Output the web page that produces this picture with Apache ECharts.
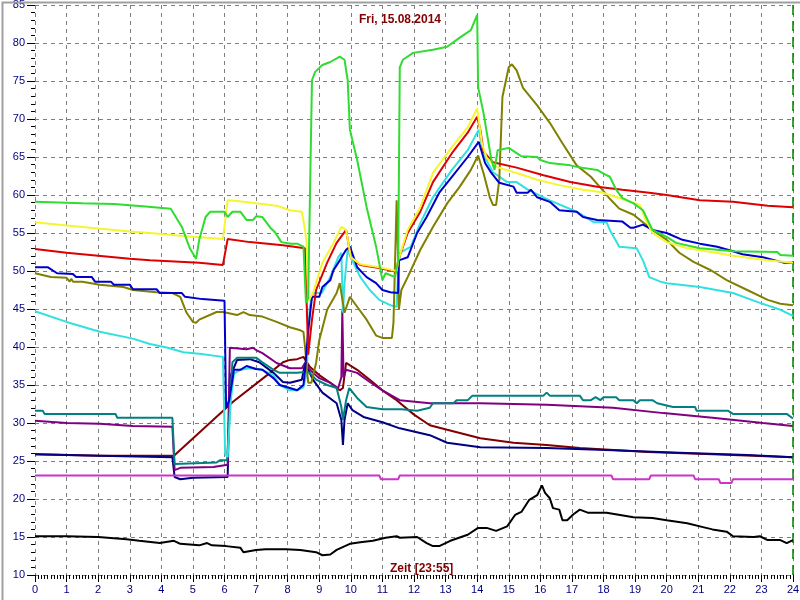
<!DOCTYPE html>
<html>
<head>
<meta charset="utf-8">
<script src="https://cdn.jsdelivr.net/npm/echarts@6/dist/echarts.min.js"></script>
<style>
html,body{margin:0;padding:0;background:#fff;}
#chart{width:800px;height:600px;}
</style>
</head>
<body>
<div id="chart"></div>
<script>
// ---- data: [hour, °C] ----
const titleText = 'Fri, 15.08.2014';
const xName = 'Zeit [23:55]';
const yName = '°C';
const xTicks = [0, 24, 1];
const yTicks = [10, 85, 5];

const green = [[0,59.1],[1.5,58.9],[2.5,58.8],[3.5,58.5],[4.3,58.2],[4.65,55.8],[4.9,53.0],[5.1,51.6],[5.2,54.1],[5.4,57.1],[5.55,57.8],[6.0,57.8],[6.1,57.1],[6.25,57.8],[6.5,57.8],[6.7,56.7],[6.9,56.7],[7.0,57.2],[7.2,57.1],[7.45,55.7],[7.6,55.1],[7.8,53.8],[8.1,53.6],[8.3,53.6],[8.5,53.2],[8.58,45.8],[8.65,46.5],[8.77,75.1],[8.87,76.2],[9.1,77.1],[9.35,77.5],[9.65,78.2],[9.8,77.8],[9.9,75.1],[9.97,68.6],[10.2,64.6],[10.5,58.4],[10.8,53.2],[11.0,48.8],[11.1,49.7],[11.4,49.2],[11.5,51.4],[11.55,76.8],[11.65,77.8],[11.97,78.7],[12.6,79.1],[13.05,79.5],[13.45,80.7],[13.8,81.7],[14.0,83.7],[14.03,74.2],[14.2,70.8],[14.45,64.6],[14.55,63.3],[14.65,65.9],[15.0,66.2],[15.25,65.5],[15.4,65.1],[15.9,65.0],[16.0,64.6],[16.3,64.2],[16.95,63.9],[17.15,63.7],[17.8,63.3],[18.0,62.8],[18.2,62.4],[18.4,60.7],[18.6,59.6],[18.95,58.9],[19.25,58.0],[19.55,55.4],[20.0,54.5],[20.3,53.7],[21.05,53.0],[21.6,52.8],[22.1,52.6],[23.5,52.5],[23.6,52.1],[24,52.0]];

const yellow = [[0,56.4],[1,56.0],[2,55.6],[3,55.2],[3.64,55.0],[4.7,54.6],[5.95,54.2],[6.1,59.3],[6.4,59.2],[7.0,58.9],[7.65,58.6],[8.07,58.0],[8.45,57.8],[8.55,55.4],[8.6,53.7],[8.65,46.0],[8.8,47.1],[9.1,51.1],[9.45,53.7],[9.7,55.8],[9.85,55.4],[10.0,51.8],[10.3,50.9],[10.9,50.5],[11.45,50.0],[11.5,51.4],[11.8,55.4],[12.2,58.4],[12.6,62.9],[13.2,66.3],[13.7,68.9],[14.0,71.4],[14.15,66.8],[14.3,64.9],[14.6,63.7],[15.25,62.9],[15.9,62.0],[16.6,61.3],[17.35,60.7],[17.9,60.4],[18.5,59.6],[19.15,58.7],[19.3,57.1],[19.55,55.0],[20.0,53.8],[20.65,53.0],[21.4,52.5],[22.1,52.0],[23.2,51.4],[24,51.1]];

const red = [[0,52.9],[1,52.4],[2,52.0],[3,51.6],[3.64,51.4],[5.2,51.1],[5.95,50.8],[6.1,54.2],[6.8,53.8],[7.85,53.4],[8.55,53.0],[8.6,52.8],[8.65,39.0],[8.77,43.6],[8.9,47.5],[9.25,51.1],[9.55,53.7],[9.85,55.4],[10.0,51.8],[10.3,50.8],[10.9,50.4],[11.45,49.9],[11.5,51.4],[11.8,55.0],[12.2,57.8],[12.6,61.7],[13.2,65.5],[13.7,68.2],[14.0,70.3],[14.1,68.6],[14.2,65.7],[14.5,64.3],[15.25,63.6],[16.1,62.6],[16.95,61.7],[17.8,61.1],[18.6,60.7],[19.45,60.3],[20.0,60.0],[21.05,59.3],[22.1,59.1],[23.2,58.6],[24,58.4]];

const blue = [[0,50.5],[0.4,50.5],[0.7,49.7],[1.2,49.6],[1.3,49.2],[1.8,49.2],[1.9,48.6],[2.4,48.6],[2.5,48.2],[3.0,48.2],[3.1,47.6],[3.85,47.6],[3.95,47.1],[4.65,47.1],[4.75,46.6],[5.3,46.3],[6.0,46.1],[6.05,32.0],[6.15,33.0],[6.3,37.0],[6.5,37.0],[6.7,37.5],[7.0,37.1],[7.2,37.0],[7.55,35.9],[7.75,35.0],[8.07,34.6],[8.3,34.3],[8.5,35.0],[8.55,37.0],[8.65,42.2],[8.77,46.6],[9.0,46.6],[9.1,47.9],[9.35,48.8],[9.45,50.1],[9.65,51.4],[9.85,52.8],[9.97,53.2],[10.2,50.5],[10.5,49.2],[10.8,48.4],[11.0,47.5],[11.25,47.2],[11.5,47.1],[11.52,51.4],[11.8,51.8],[12.1,55.0],[12.4,57.1],[12.8,60.3],[13.2,62.4],[13.7,65.0],[14.05,67.0],[14.25,64.2],[14.45,62.9],[14.7,61.6],[15.15,61.1],[15.25,60.3],[15.6,60.3],[15.7,60.7],[15.9,59.7],[16.3,59.1],[16.6,58.0],[17.15,57.8],[17.35,57.1],[17.8,56.7],[18.6,56.5],[18.85,55.7],[18.95,55.7],[19.25,56.1],[19.55,55.4],[20.0,55.0],[20.5,54.1],[21.05,53.6],[21.6,53.2],[22.1,52.6],[22.4,52.2],[23.05,51.8],[23.7,51.1],[24,51.1]];

const olive = [[0,49.7],[0.5,49.2],[1.0,49.1],[1.1,48.6],[1.15,49.0],[1.2,48.6],[1.5,48.6],[2.05,48.2],[2.8,47.9],[3.1,47.5],[3.85,47.2],[4.35,47.1],[4.6,46.6],[4.8,44.5],[5.0,43.3],[5.1,43.2],[5.2,43.6],[5.75,44.6],[5.95,44.6],[6.4,44.2],[6.6,44.6],[6.8,44.2],[7.2,44.0],[7.65,43.3],[8.07,42.6],[8.4,42.2],[8.5,42.0],[8.55,40.0],[8.65,35.3],[8.75,35.3],[8.9,37.9],[9.0,40.9],[9.25,44.9],[9.55,47.1],[9.65,48.4],[9.75,45.8],[9.8,44.5],[9.97,46.6],[10.2,45.3],[10.5,43.6],[10.8,41.5],[11.0,41.2],[11.3,41.2],[11.35,43.2],[11.4,51.1],[11.45,59.3],[11.5,51.1],[11.52,44.9],[11.6,47.5],[11.8,49.2],[12.2,52.8],[12.6,55.8],[13.05,58.9],[13.45,61.1],[13.8,63.3],[14.03,65.2],[14.2,62.9],[14.4,59.7],[14.5,58.7],[14.6,58.7],[14.7,62.0],[14.8,72.9],[15.0,76.8],[15.1,77.2],[15.25,76.4],[15.45,74.1],[15.9,71.8],[16.3,69.5],[16.7,66.8],[17.15,63.9],[17.6,62.4],[18.0,60.5],[18.2,59.5],[18.5,58.2],[18.95,57.4],[19.25,56.4],[19.55,55.4],[20.0,54.1],[20.4,52.4],[20.85,51.2],[21.4,50.1],[21.9,48.8],[22.55,47.5],[23.2,46.2],[23.6,45.7],[24,45.5]];

const cyan = [[0,44.7],[1.0,43.3],[2.05,42.0],[3.1,41.1],[3.64,40.4],[4.2,39.9],[4.7,39.3],[5.2,39.1],[5.95,38.7],[6.02,26.0],[6.1,25.5],[6.2,33.0],[6.3,36.5],[6.5,37.0],[6.8,37.2],[7.2,37.0],[7.55,36.3],[7.75,35.0],[8.07,34.3],[8.3,34.3],[8.5,34.7],[8.6,36.5],[8.7,45.3],[8.8,47.1],[9.08,47.1],[9.35,49.2],[9.6,51.8],[9.7,52.4],[9.75,44.5],[9.8,48.4],[9.9,52.8],[10.0,51.8],[10.3,49.2],[10.6,47.5],[10.9,46.2],[11.25,45.5],[11.45,45.3],[11.5,50.1],[11.55,52.4],[11.9,53.2],[12.2,56.3],[12.6,59.7],[13.2,63.3],[13.7,65.9],[14.05,68.6],[14.2,65.3],[14.5,63.0],[14.95,61.7],[15.25,61.7],[15.6,60.7],[16.3,59.3],[17.15,57.8],[17.7,56.4],[18.1,56.4],[18.2,55.4],[18.5,53.2],[19.05,53.0],[19.25,51.4],[19.45,49.2],[19.8,48.6],[20.0,48.4],[21.05,47.9],[22.1,47.1],[22.95,45.8],[23.6,44.9],[24,44.1]];

const teal = [[0,31.6],[0.25,31.6],[0.3,31.2],[2.55,31.2],[2.6,30.7],[4.35,30.7],[4.42,24.6],[5.75,24.8],[5.85,25.1],[6.08,25.1],[6.25,38.0],[6.4,38.6],[7.0,38.6],[7.2,38.0],[7.55,37.0],[7.75,36.6],[8.3,36.6],[8.55,36.7],[8.7,36.6],[8.9,35.7],[9.25,35.0],[9.55,34.6],[9.7,32.1],[9.75,30.4],[9.85,33.0],[9.95,34.6],[10.2,33.3],[10.5,32.1],[11.0,31.8],[11.6,31.8],[12.1,31.6],[12.5,32.0],[12.6,32.6],[13.25,32.6],[13.35,33.0],[13.7,33.0],[13.85,33.6],[16.1,33.6],[16.2,34.0],[16.3,33.6],[17.25,33.6],[17.35,33.0],[17.6,33.0],[17.75,33.4],[17.9,33.0],[18.0,33.4],[18.4,33.4],[18.5,33.0],[18.95,33.0],[19.05,32.6],[19.15,33.0],[19.55,33.0],[19.7,32.6],[20.2,32.1],[20.9,32.1],[20.95,31.6],[21.95,31.6],[22.1,31.2],[23.8,31.2],[24,30.6]];

const purple = [[0,30.3],[1.0,30.0],[2.05,29.9],[3.1,29.6],[4.35,29.5],[4.42,23.8],[4.6,24.1],[5.65,24.2],[6.1,24.5],[6.17,39.9],[6.7,39.7],[6.9,39.9],[7.0,39.6],[7.2,39.2],[7.65,37.9],[8.07,37.2],[8.45,37.2],[8.55,37.9],[8.7,37.0],[9.0,35.9],[9.35,35.3],[9.6,34.6],[9.7,36.0],[9.73,44.8],[9.77,36.0],[9.85,37.0],[10.2,36.6],[10.6,35.4],[11.0,34.3],[11.55,33.0],[12.5,32.6],[14.1,32.6],[16.2,32.4],[18.3,32.0],[19.9,31.3],[21.45,30.7],[23.05,30.0],[24,29.6]];

const navy = [[0,25.9],[2.05,25.7],[4.35,25.5],[4.42,22.9],[4.6,22.6],[5.0,22.8],[6.1,22.9],[6.17,36.0],[6.4,38.3],[6.8,38.4],[7.1,38.0],[7.55,36.6],[7.85,35.4],[8.07,35.3],[8.45,35.7],[8.55,37.9],[8.8,35.7],[9.1,34.0],[9.55,32.6],[9.7,30.4],[9.75,27.1],[9.8,30.4],[9.9,32.6],[10.05,31.7],[10.4,30.8],[11.0,30.1],[11.55,29.3],[12.5,28.4],[13.05,27.4],[14.1,26.8],[16.2,26.7],[18.3,26.4],[20.4,26.1],[22.55,25.8],[24,25.5]];

const maroon = [[0,25.9],[2.05,25.7],[4.4,25.7],[6.27,32.8],[7.35,36.3],[7.85,38.0],[8.07,38.3],[8.3,38.4],[8.5,38.7],[8.7,37.4],[9.0,36.3],[9.35,35.3],[9.65,34.3],[9.75,34.6],[9.85,37.9],[10.2,37.0],[10.6,35.7],[11.0,34.3],[11.45,33.0],[12.0,31.1],[12.5,29.7],[13.05,29.1],[14.1,28.0],[15.15,27.4],[16.2,27.1],[17.25,26.7],[19.4,26.2],[21.45,25.9],[24,25.5]];

const magenta = [[0,23.1],[10.9,23.1],[10.95,22.6],[11.5,22.6],[11.55,23.1],[18.25,23.1],[18.3,22.6],[19.45,22.6],[19.5,23.1],[20.85,23.1],[20.9,22.6],[21.65,22.6],[21.7,22.1],[22.05,22.1],[22.1,22.6],[24,22.6]];

const black = [[0,15.1],[1,15.1],[2,15.0],[2.9,14.7],[3.3,14.5],[3.95,14.2],[4.4,14.5],[4.6,14.1],[5.2,13.9],[5.45,14.2],[5.6,13.9],[6.05,13.8],[6.5,13.6],[6.6,13.0],[7.0,13.3],[7.3,13.4],[7.95,13.4],[8.4,13.3],[8.9,13.0],[9.1,12.6],[9.35,12.7],[9.55,13.3],[9.97,14.1],[10.3,14.3],[10.7,14.5],[11.1,14.9],[11.45,15.1],[11.55,14.9],[12.1,15.0],[12.4,14.2],[12.6,13.8],[12.8,13.8],[13.15,14.5],[13.7,15.3],[14.03,16.2],[14.3,16.2],[14.6,15.8],[14.95,16.4],[15.2,17.9],[15.4,18.3],[15.65,19.9],[15.9,20.5],[16.05,21.8],[16.15,20.8],[16.3,20.1],[16.4,18.8],[16.6,18.6],[16.7,17.2],[16.85,17.2],[17.05,18.0],[17.25,18.6],[17.5,18.2],[18.1,18.2],[18.95,17.6],[19.55,17.5],[20.0,17.2],[20.65,16.8],[21.15,16.3],[21.45,16.0],[21.9,15.7],[22.1,15.1],[22.75,15.0],[22.95,15.1],[23.2,14.6],[23.6,14.6],[23.8,14.2],[24,14.6]];

const markerHour = 24;

// ---- chart ----
const seriesDefs = [
  ['maroon', maroon, '#800000'],
  ['navy', navy, '#000080'],
  ['purple', purple, '#800080'],
  ['teal', teal, '#008080'],
  ['magenta', magenta, '#cc33cc'],
  ['cyan', cyan, '#33e0e0'],
  ['olive', olive, '#808000'],
  ['blue', blue, '#0000cc'],
  ['red', red, '#dd0000'],
  ['yellow', yellow, '#f5f530'],
  ['green', green, '#2fdc2f'],
  ['black', black, '#000000']
];
const series = seriesDefs.map(([n, d, c], i) => ({
  name: n, type: 'line', data: d, showSymbol: false, symbol: 'none',
  lineStyle: { color: c, width: 2 }, itemStyle: { color: c },
  animation: false, z: 2 + i
}));
series[0].markLine = {
  silent: true, symbol: 'none', animation: false, label: { show: false },
  lineStyle: { color: '#008000', type: [10, 6], width: 1.5 },
  data: [{ xAxis: markerHour }]
};

const font = 'Arial, "Liberation Sans", sans-serif';
const chart = echarts.init(document.getElementById('chart'), null, { renderer: 'canvas' });
chart.setOption({
  backgroundColor: '#ffffff',
  animation: false,
  title: {
    text: titleText, left: 'center', top: 9,
    textStyle: { color: '#800000', fontSize: 12, fontWeight: 'bold', fontFamily: font }
  },
  grid: { left: 35, right: 7, top: 5, bottom: 25, containLabel: false, outerBoundsMode: 'none' },
  xAxis: {
    type: 'value', min: xTicks[0], max: xTicks[1], interval: xTicks[2],
    axisLine: { show: false },
    axisTick: { show: true, length: 7, lineStyle: { color: '#000', width: 1 } },
    minorTick: { show: true, splitNumber: 10, length: 4, lineStyle: { color: '#000', width: 1 } },
    axisLabel: { color: '#000080', fontSize: 11, fontFamily: font, margin: 9 },
    splitLine: { show: true, lineStyle: { color: '#808080', type: [4, 4], width: 1 } }
  },
  yAxis: {
    type: 'value', min: yTicks[0], max: yTicks[1], interval: yTicks[2],
    name: yName, nameLocation: 'middle', nameRotate: 90, nameGap: 25,
    nameTextStyle: { color: '#800000', fontSize: 12, fontFamily: font },
    axisLine: { show: false },
    axisTick: { show: true, length: 8, lineStyle: { color: '#000', width: 1 } },
    minorTick: { show: true, splitNumber: 5, length: 4, lineStyle: { color: '#000', width: 1 } },
    axisLabel: { color: '#000080', fontSize: 11, fontFamily: font, margin: 10 },
    splitLine: { show: true, lineStyle: { color: '#808080', type: [4, 4], width: 1 } }
  },
  graphic: [
    { type: 'text', left: 390, top: 563, z: 100,
      style: { text: xName, fill: '#800000', font: 'bold 12px ' + font } },
    { type: 'rect', left: 0, top: 0, z: 100,
      shape: { x: 0, y: 0, width: 799, height: 599 },
      style: { fill: 'none', stroke: '#a0a0a0', lineWidth: 2 } }
  ],
  series: series
});
</script>
</body>
</html>
